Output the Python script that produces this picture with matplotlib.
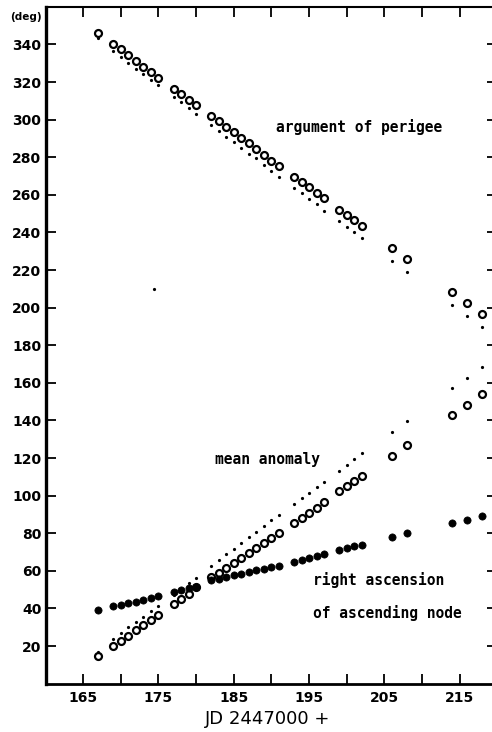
import matplotlib
matplotlib.use("Agg")
import matplotlib.pyplot as plt
from matplotlib.ticker import MultipleLocator

# observation days (JD - 2447000)
days = [167, 169, 170, 171, 172, 173, 174, 175, 177, 178, 179, 180,
        182, 183, 184, 185, 186, 187, 188, 189, 190, 191,
        193, 194, 195, 196, 197, 199, 200, 201, 202, 206, 208, 214, 216, 218]

perigee_obs = [345.9, 340.0, 337.4, 334.2, 331.2, 328.1, 325.3, 322.3, 316.3, 313.5, 310.6, 307.6,
               301.9, 299.1, 296.2, 293.2, 290.3, 287.4, 284.4, 281.2, 278.1, 275.5,
               269.6, 267.0, 264.0, 261.1, 258.1, 251.9, 249.3, 246.6, 243.6, 231.8, 225.7,
               208.1, 202.6, 196.6]
perigee_calc = [343.6, 336.5, 333.1, 330.3, 326.9, 324.3, 321.1, 318.2, 312.2, 309.2, 306.0, 303.1,
                297.1, 293.9, 290.9, 287.9, 284.9, 281.7, 279.4, 275.9, 272.8, 269.6,
                263.5, 260.8, 257.8, 255.0, 251.4, 246.1, 243.0, 240.0, 236.9, 224.8, 219.1,
                201.4, 195.5, 189.5]

anomaly_obs = [14.8, 20.2, 22.8, 25.5, 28.5, 31.2, 33.8, 36.5, 42.3, 45.2, 47.5, 51.2,
               56.9, 59.0, 61.5, 64.2, 66.9, 69.6, 72.3, 75.0, 77.6, 80.3,
               85.5, 88.2, 90.9, 93.6, 96.5, 102.6, 105.3, 107.9, 110.6, 121.2, 126.9,
               142.9, 148.2, 153.9]
anomaly_calc = [17.0, 23.7, 26.8, 29.9, 32.6, 35.6, 38.6, 41.5, 47.3, 50.5, 53.4, 56.3,
                62.6, 65.7, 68.9, 71.6, 74.6, 77.8, 80.8, 83.8, 86.8, 89.8,
                95.7, 98.6, 101.6, 104.5, 107.5, 113.3, 116.3, 119.5, 122.5, 134.0, 139.7,
                157.1, 162.7, 168.2]

raan = [39.1, 41.3, 41.8, 42.7, 43.4, 44.5, 45.5, 46.6, 48.6, 49.7, 50.6, 51.6,
        55.0, 55.8, 56.7, 57.6, 58.5, 59.4, 60.3, 61.1, 62.0, 62.8,
        64.8, 65.8, 66.8, 67.8, 68.8, 71.0, 72.0, 73.0, 73.8, 77.8, 80.0,
        85.4, 87.2, 89.0]

stray_days = [174.4]
stray_vals = [210.0]

x_ticks = list(range(165, 216, 10))
y_ticks = list(range(20, 341, 20))

W, H = 492, 732
fig = plt.figure(figsize=(W / 100, H / 100), dpi=100)
x0, y_bot, y_top = 45.5, 683.6, 6.8
px_day = 7.53
ax = fig.add_axes([x0 / W, (H - y_bot) / H, 60 * px_day / W, (y_bot - y_top) / H])

ax.plot(days, perigee_calc, 'o', ms=2.3, color='black', mew=0)
ax.plot(days, perigee_obs, 'o', ms=5, mfc='none', mec='black', mew=1.6)
ax.plot(days, anomaly_calc, 'o', ms=2.3, color='black', mew=0)
ax.plot(days, anomaly_obs, 'o', ms=5, mfc='none', mec='black', mew=1.6)
ax.plot(days, raan, 'o', ms=5.2, color='black', mew=0.5)
ax.plot(stray_days, stray_vals, 'o', ms=2.3, color='black', mew=0)

ax.set_xlim(160, 220)
ax.set_ylim(0, 360)
ax.set_xticks(x_ticks)
ax.xaxis.set_minor_locator(MultipleLocator(5))
ax.set_yticks(y_ticks)

tick_font = dict(family='Liberation Sans Narrow', weight='bold', size=10)
ax.set_xticklabels([str(v) for v in x_ticks], fontdict=tick_font)
ax.set_yticklabels([str(v) for v in y_ticks], fontdict=tick_font)

ax.tick_params(which='both', direction='in', length=7, width=1.3,
               top=True, right=True)
ax.tick_params(axis='x', pad=5)
ax.tick_params(axis='y', pad=3)

ax.spines['left'].set_linewidth(2.4)
ax.spines['bottom'].set_linewidth(2.0)
ax.spines['top'].set_linewidth(1.5)
ax.spines['right'].set_linewidth(1.5)

mono = dict(family='DejaVu Sans Mono', weight='bold', size=10.5, color='black')
fig.text(276 / W, 1 - 132 / H, 'argument of perigee', **mono)
fig.text(215 / W, 1 - 464 / H, 'mean anomaly', **mono)
fig.text(313 / W, 1 - 585 / H, 'right ascension', **mono)
fig.text(313 / W, 1 - 618 / H, 'of ascending node', **mono)

fig.text(10 / W, 1 - 20 / H, '(deg)', family='Liberation Sans Narrow', weight='bold', size=7.5)
fig.text(268 / W, 1 - 724 / H, 'JD 2447000 +', family='Liberation Sans Narrow', size=13, ha='center')

fig.savefig('out.png', dpi=100)
